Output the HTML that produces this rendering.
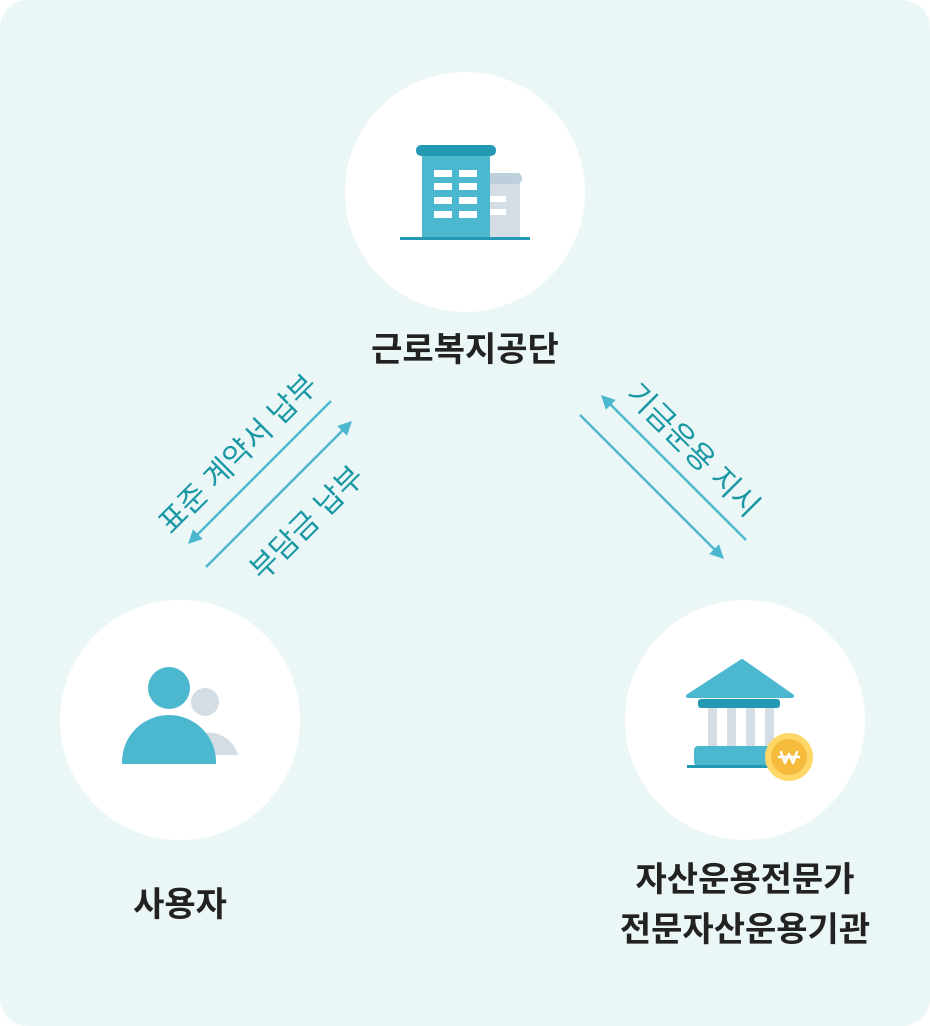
<!DOCTYPE html>
<html><head><meta charset="utf-8"><style>
html,body{margin:0;padding:0;background:#fff;}
body{width:930px;height:1026px;position:relative;overflow:hidden;font-family:"Liberation Sans","Noto Sans CJK KR",sans-serif;}
.bg{position:absolute;left:0;top:0;width:930px;height:1026px;background:#ebf7f7;border-radius:28px;}
.c{position:absolute;width:240px;height:240px;border-radius:50%;background:#fff;}
.t{position:absolute;font-weight:700;color:#222;font-size:34px;text-align:center;white-space:nowrap;transform:translate(-50%,-50%);line-height:50px;}
.l{position:absolute;color:#1a97a5;font-size:30px;white-space:nowrap;transform-origin:center;}
</style></head><body>
<div class="bg"></div>
<div class="c" style="left:345px;top:72px"></div>
<div class="c" style="left:60px;top:600px"></div>
<div class="c" style="left:625px;top:600px"></div>
<div class="t" style="left:465px;top:350px">근로복지공단</div>
<div class="t" style="left:180px;top:905px">사용자</div>
<div class="t" style="left:745px;top:905px">자산운용전문가<br>전문자산운용기관</div>
<div class="l" style="left:236px;top:452px;transform:translate(-50%,-50%) rotate(-45deg)">표준 계약서 납부</div>
<div class="l" style="left:305px;top:521px;transform:translate(-50%,-50%) rotate(-45deg)">부담금 납부</div>
<div class="l" style="left:695px;top:448px;transform:translate(-50%,-50%) rotate(45deg)">기금운용 지시</div>
<svg width="930" height="1026" style="position:absolute;left:0;top:0">
<defs>
<marker id="b" viewBox="0 0 10 10" markerWidth="14" markerHeight="14" refX="8" refY="5" orient="auto" markerUnits="userSpaceOnUse"><path d="M0,0 L10,5 L0,10 Z" fill="#4cb8cf"/></marker></defs>
<g stroke="#4cb8cf" stroke-width="2.5">
<line x1="331" y1="401" x2="190" y2="542" marker-end="url(#b)"/>
<line x1="206" y1="567" x2="350" y2="423" marker-end="url(#b)"/>
<line x1="580" y1="415" x2="722" y2="557" marker-end="url(#b)"/>
<line x1="746" y1="540" x2="603" y2="397" marker-end="url(#b)"/>
</g>
<rect x="488" y="173" width="32" height="66" fill="#d3dde3"/>
<rect x="486" y="173" width="36" height="11" rx="5" fill="#bccfda"/>
<rect x="490" y="196" width="16" height="6" fill="#fff"/>
<rect x="490" y="209" width="16" height="6" fill="#fff"/>
<rect x="422" y="150" width="68" height="89" fill="#4cb8cf"/>
<rect x="416" y="145" width="80" height="11" rx="5" fill="#2499b3"/>
<g fill="#fff"><rect x="434" y="170" width="18" height="7"/><rect x="459" y="170" width="18" height="7"/>
<rect x="434" y="183" width="18" height="7"/><rect x="459" y="183" width="18" height="7"/>
<rect x="434" y="197" width="18" height="7"/><rect x="459" y="197" width="18" height="7"/>
<rect x="434" y="211" width="18" height="7"/><rect x="459" y="211" width="18" height="7"/></g>
<rect x="400" y="237" width="130" height="3" fill="#2499b3"/>
<circle cx="205" cy="702" r="14" fill="#d3dde3"/>
<path d="M180,755 A30,30 0 0 1 238,755 Z" fill="#d3dde3"/>
<circle cx="169" cy="688" r="21" fill="#4cb8cf"/>
<path d="M122,764 L122,762 A47,47 0 0 1 216,762 L216,764 Z" fill="#4cb8cf"/>
<path d="M742,661 L792,696 L688,696 Z" fill="#4cb8cf" stroke="#4cb8cf" stroke-width="4" stroke-linejoin="round"/>
<rect x="698" y="699" width="82" height="9" rx="3" fill="#2499b3"/>
<g fill="#d3dde3"><rect x="708" y="708" width="9" height="40"/><rect x="727" y="708" width="9" height="40"/><rect x="746" y="708" width="9" height="40"/><rect x="765" y="708" width="9" height="40"/></g>
<rect x="694" y="746" width="90" height="20" rx="4" fill="#4cb8cf"/>
<rect x="687" y="765" width="95" height="3" fill="#2499b3"/>
<circle cx="789" cy="757" r="24" fill="#ffd766"/>
<circle cx="789" cy="757" r="18" fill="#f4bb3c"/>
<path d="M779,757 h20 M781,752 l4,11 l4,-9 l4,9 l4,-11" stroke="#fff" stroke-width="2.5" fill="none" stroke-linejoin="round" stroke-linecap="round"/>
</svg>
</body></html>
